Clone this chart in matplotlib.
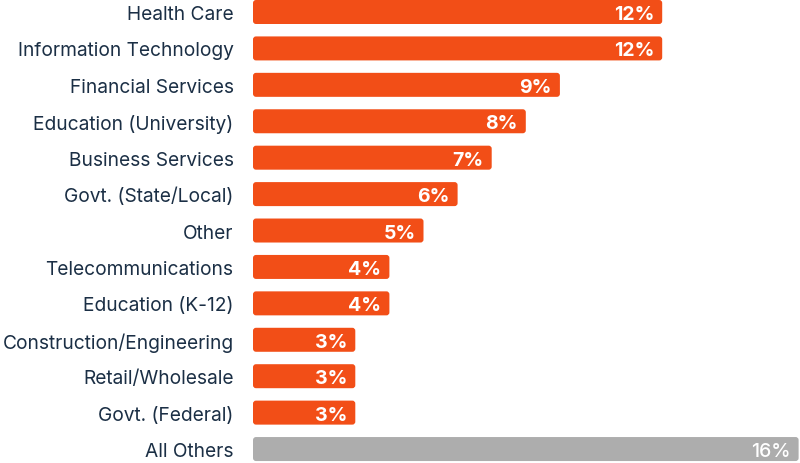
import matplotlib.pyplot as plt
from matplotlib.patches import FancyBboxPatch

plt.rcParams['font.family'] = ['Inter', 'DejaVu Sans']

categories = ["Health Care", "Information Technology", "Financial Services",
              "Education (University)", "Business Services", "Govt. (State/Local)",
              "Other", "Telecommunications", "Education (K-12)",
              "Construction/Engineering", "Retail/Wholesale", "Govt. (Federal)",
              "All Others"]
values = [12, 12, 9, 8, 7, 6, 5, 4, 4, 3, 3, 3, 16]
highlight = [True] * 12 + [False]

ORANGE = "#F24E17"
GRAY = "#ADADAD"
NAVY = "#1B2F45"

fig = plt.figure(figsize=(8, 4.64), dpi=100)
ax = fig.add_axes([253 / 800, 0, 547 / 800, 1])

px_x = 34.1      # pixels per percent
px_y = 36.42     # pixels per row
ax.set_xlim(0, 547 / px_x)
ax.set_ylim((464 - 13) / px_y, -13 / px_y)

h = 24 / px_y
for i, (v, hl) in enumerate(zip(values, highlight)):
    box = FancyBboxPatch((0, i - h / 2), v, h,
                         boxstyle="round,pad=0,rounding_size=%f" % (3 / px_x),
                         mutation_aspect=px_x / px_y,
                         facecolor=ORANGE if hl else GRAY, edgecolor="none")
    ax.add_patch(box)
    ax.text(v - 8 / px_x, i, "%d%%" % v, ha="right", va="center_baseline",
            color="white", fontsize=14,
            fontweight="bold" if hl else "medium")

ax.set_yticks(range(len(categories)))
ax.set_yticklabels(categories, fontsize=13.8, color=NAVY)
ax.tick_params(axis="y", length=0, pad=14)
ax.set_xticks([])
for s in ax.spines.values():
    s.set_visible(False)

fig.savefig("out.png", dpi=100)
